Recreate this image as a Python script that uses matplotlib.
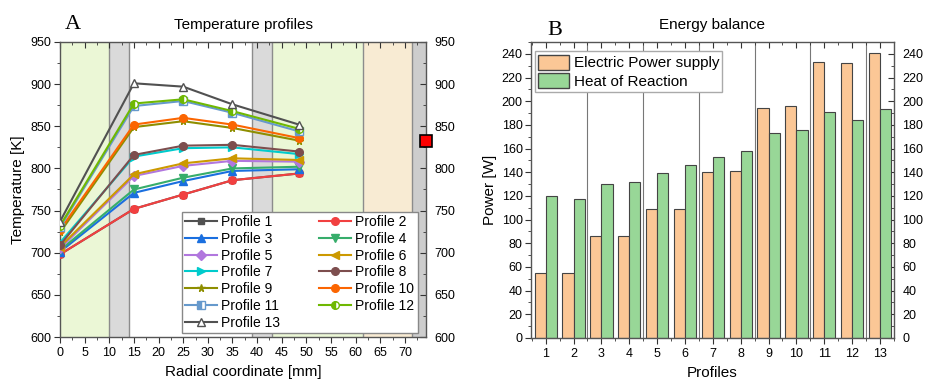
import matplotlib
matplotlib.use("Agg")
import matplotlib.pyplot as plt
from matplotlib.ticker import MultipleLocator
from matplotlib.patches import Patch

plt.rcParams["font.family"] = ["Liberation Sans", "DejaVu Sans"]

# --- data -------------------------------------------------------------
radial_mm = [0, 15, 25, 35, 48.5]
profile_names = [f"Profile {i}" for i in range(1, 14)]
temperatures = [
    [698, 752, 769, 786, 794],   # 1 (hidden under 2)
    [698, 752, 769, 786, 794],   # 2
    [701, 771, 785, 797, 799],   # 3
    [703, 775, 789, 800, 802],   # 4
    [705, 791, 803, 809, 808],   # 5
    [707, 793, 806, 812, 810],   # 6
    [712, 814, 824, 825, 817],   # 7
    [709, 816, 827, 828, 820],   # 8
    [724, 849, 856, 848, 833],   # 9
    [727, 852, 860, 852, 836],   # 10
    [730, 874, 880, 866, 844],   # 11
    [732, 877, 882, 868, 847],   # 12
    [737, 901, 897, 876, 852],   # 13
]
wall_point = (74.3, 833)

profiles = list(range(1, 14))
electric_power = [55, 55, 86, 86, 109, 109, 140, 141, 194, 196, 233, 232, 240.5]
heat_reaction = [120, 117, 130, 131.5, 139, 146, 152.5, 158, 173.5, 175.5, 191, 184, 193]

# --- styles -----------------------------------------------------------
colors = ["#515151", "#F14040", "#1A6FDF", "#37AD6B", "#B177DE", "#CC9900",
          "#00CBCC", "#7D4E4E", "#8E8E00", "#FB6501", "#6699CC", "#6FB802",
          "#515151"]
markers = ["s", "o", "^", "v", "D", "<", ">", "o", "*", "o", "s", "o", "^"]

fig = plt.figure(figsize=(9.25, 3.82), dpi=100)

# ===== panel A =========================================================
ax1 = fig.add_axes([0.0649, 0.1178, 0.3957, 0.7723])
zones = [(0, 10, "#EBF7D6"), (10, 14, "#DADADA"), (39, 43, "#DADADA"),
         (43, 61.5, "#EBF7D6"), (61.5, 71.5, "#F8EBD3"), (71.5, 74.3, "#CDCDCD")]
for x0, x1, c in zones:
    ax1.axvspan(x0, x1, color=c, zorder=0, lw=0)
for xv in [10, 14, 39, 43, 61.5, 71.5]:
    ax1.axvline(xv, color="#8C8C8C", lw=1.0, zorder=0.5)

lines = []
for i, (name, temps) in enumerate(zip(profile_names, temperatures)):
    kw = dict(color=colors[i], marker=markers[i], ms=5.5, lw=1.5, label=name)
    if i == 0:
        kw.update(ms=4)
    if i == 12:
        kw.update(mfc="white", mec=colors[i])
    elif i in (10, 11):
        kw.update(fillstyle="left", mfcalt="white")
    ln, = ax1.plot(radial_mm, temps, **kw, zorder=3 + i * 0.01)
    lines.append(ln)

ax1.plot(*wall_point, marker="s", ms=8, color="red", mec="black", mew=1.2,
         clip_on=False, zorder=10)

ax1.set_xlim(0, 74.3)
ax1.set_ylim(600, 950)
ax1.xaxis.set_major_locator(MultipleLocator(5))
ax1.xaxis.set_minor_locator(MultipleLocator(2.5))
ax1.yaxis.set_major_locator(MultipleLocator(50))
ax1.yaxis.set_minor_locator(MultipleLocator(25))
ax1.set_title("Temperature profiles", fontsize=11, pad=9)
ax1.set_xlabel("Radial coordinate [mm]", fontsize=11, labelpad=4)
ax1.set_ylabel("Temperature [K]", fontsize=11, labelpad=4)
ax1.text(0.014, 1.045, "A", transform=ax1.transAxes, fontsize=16,
         family="Liberation Serif", va="baseline")

# row-wise legend order: 1 2 / 3 4 / ...
order = list(range(0, 13, 2)) + list(range(1, 13, 2))
ax1.legend([lines[k] for k in order], [profile_names[k] for k in order],
           loc="lower right", bbox_to_anchor=(0.978, 0.013), ncol=2,
           fontsize=10, handlelength=2.3, labelspacing=0.2, columnspacing=2.8,
           handletextpad=0.3, borderaxespad=0, fancybox=False,
           edgecolor="#888888", framealpha=1, borderpad=0.25)

# ===== panel B =========================================================
ax2 = fig.add_axes([0.574, 0.1152, 0.3924, 0.7749])
w = 0.4
ax2.bar([p - w / 2 for p in profiles], electric_power, width=w, color="#FBC796",
        edgecolor="#444444", lw=0.8, label="Electric Power supply", zorder=2)
ax2.bar([p + w / 2 for p in profiles], heat_reaction, width=w, color="#98D797",
        edgecolor="#444444", lw=0.8, label="Heat of Reaction", zorder=2)
for xv in [2.5, 4.5, 6.5, 8.5, 10.5, 12.5]:
    ax2.axvline(xv, color="#777777", lw=0.8, zorder=1)

ax2.set_xlim(0.47, 13.5)
ax2.set_ylim(0, 250)
ax2.set_xticks(profiles)
ax2.xaxis.set_minor_locator(MultipleLocator(0.5))
ax2.yaxis.set_major_locator(MultipleLocator(20))
ax2.yaxis.set_minor_locator(MultipleLocator(10))
ax2.set_title("Energy balance", fontsize=11, pad=9)
ax2.set_xlabel("Profiles", fontsize=11, labelpad=4)
ax2.set_ylabel("Power [W]", fontsize=11, labelpad=3)
ax2.text(0.044, 1.024, "B", transform=ax2.transAxes, fontsize=16,
         family="Liberation Serif", va="baseline")
handles = [Patch(facecolor="#FBC796", edgecolor="#444444"),
           Patch(facecolor="#98D797", edgecolor="#444444")]
ax2.legend(handles, ["Electric Power supply", "Heat of Reaction"],
           loc="upper left", bbox_to_anchor=(0.012, 0.968), fontsize=11,
           handlelength=2.0, handleheight=1.15, labelspacing=0.2,
           handletextpad=0.3, borderaxespad=0, fancybox=False,
           edgecolor="#AAAAAA", framealpha=1, borderpad=0.2)

for ax in (ax1, ax2):
    ax.tick_params(which="both", labelsize=9, right=True, labelright=True,
                   top=True, direction="out", color="#333333")
    ax.tick_params(which="major", length=4)
    ax.tick_params(which="minor", length=2)
    ax.tick_params(axis="y", which="both", pad=2)
    for s in ax.spines.values():
        s.set_color("#555555")
        s.set_linewidth(1.0)
    # ticks on top/right point inward
    for t in ax.xaxis.get_ticklines(minor=False)[1::2] + ax.xaxis.get_ticklines(minor=True)[1::2]:
        t.set_marker(3)
    for t in ax.yaxis.get_ticklines(minor=False)[1::2] + ax.yaxis.get_ticklines(minor=True)[1::2]:
        t.set_marker(0)

fig.savefig("out.png", dpi=100)
